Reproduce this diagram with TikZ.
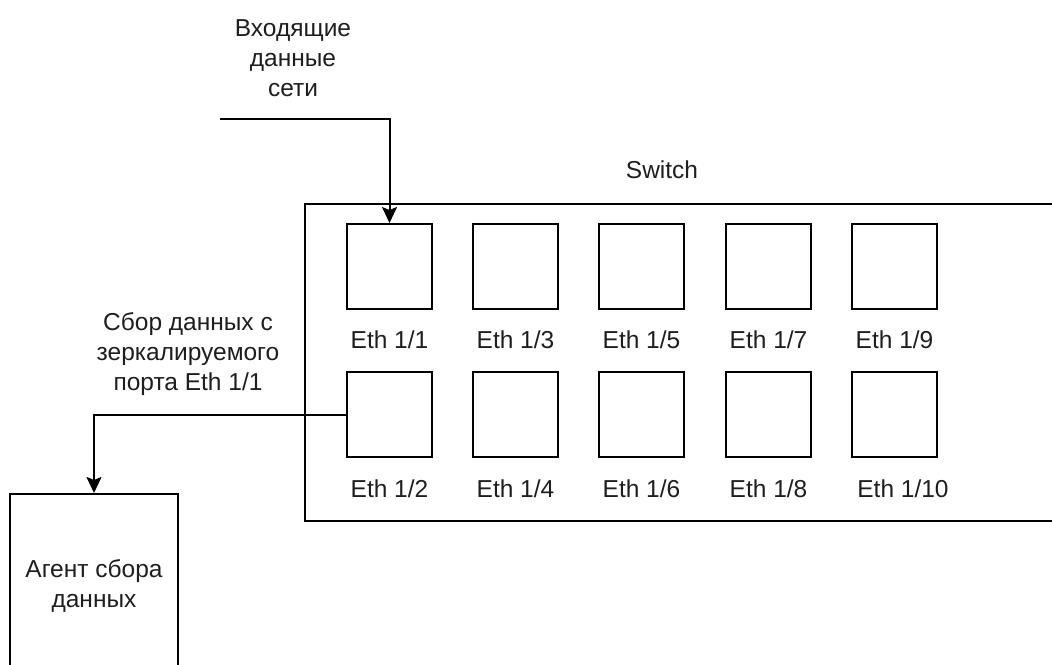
\documentclass[tikz,border=0pt]{standalone}
\usepackage{fontspec}
\setmainfont{Liberation Sans}
\usetikzlibrary{arrows.meta, positioning}
\definecolor{LineBlack}{RGB}{0, 0, 0}
\definecolor{TextGray}{RGB}{30, 30, 30}

\begin{document}
\begin{tikzpicture}[
    x=1pt, y=-1pt,
    every node/.style={font=\fontsize{24.5}{30}\selectfont, align=center, text=TextGray},
    port/.style={draw=LineBlack, line width=2pt, minimum width=85pt, minimum height=85pt, inner sep=0pt},
    portlbl/.style={anchor=base, inner sep=0pt},
    arr/.style={-{Stealth[length=16pt, width=15pt, inset=3pt]}, draw=LineBlack, line width=2pt}
]
\useasboundingbox (0,0) rectangle (1052,664);
\clip (0,0) rectangle (1052,664);
% switch body
\node[draw=LineBlack, line width=2pt, minimum width=760pt, minimum height=317pt,
      inner sep=0pt, anchor=north west] (sw) at (304,203) {};
\node (swlbl) at (662,170) {Switch};
% ports, upper row
\node[port] (p1) at (389.5,266.5) {};
\node[port] (p3) at (515.5,266.5) {};
\node[port] (p5) at (641.5,266.5) {};
\node[port] (p7) at (768.5,266.5) {};
\node[port] (p9) at (894.5,266.5) {};
\node[portlbl] (l1) at (389.5,348) {Eth 1/1};
\node[portlbl] (l3) at (515.5,348) {Eth 1/3};
\node[portlbl] (l5) at (641.5,348) {Eth 1/5};
\node[portlbl] (l7) at (768.5,348) {Eth 1/7};
\node[portlbl] (l9) at (894.5,348) {Eth 1/9};
% ports, lower row
\node[port] (p2) at (389.5,414.5) {};
\node[port] (p4) at (515.5,414.5) {};
\node[port] (p6) at (641.5,414.5) {};
\node[port] (p8) at (768.5,414.5) {};
\node[port] (p10) at (894.5,414.5) {};
\node[portlbl] (l2) at (389.5,497) {Eth 1/2};
\node[portlbl] (l4) at (515.5,497) {Eth 1/4};
\node[portlbl] (l6) at (641.5,497) {Eth 1/6};
\node[portlbl] (l8) at (768.5,497) {Eth 1/8};
\node[portlbl] (l10) at (903,497) {Eth 1/10};
% incoming traffic
\coordinate (insrc) at (220,119);
\node (intxt) at (293,58) {Входящие\\данные\\сети};
\draw[arr] (insrc) -| (p1.north);
% mirrored traffic to the agent
\node (mirtxt) at (188,354) {Сбор данных с\\зеркалируемого\\порта Eth 1/1};
\node[draw=LineBlack, line width=2pt, minimum width=168pt, minimum height=184pt,
      anchor=north] (agent) at (94,493) {Агент сбора\\данных};
\draw[arr] (p2.west) -| (agent.north);
\end{tikzpicture}
\end{document}
